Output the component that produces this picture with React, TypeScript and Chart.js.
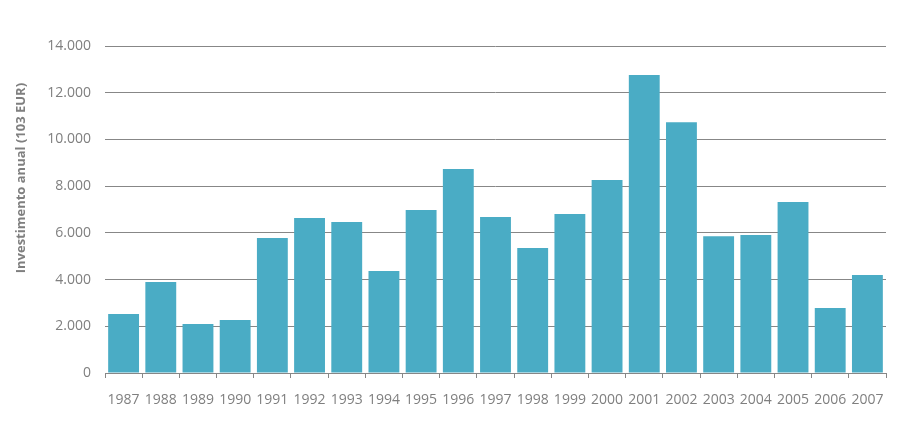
import React, { useEffect, useRef } from "react";
import { Chart, registerables } from "chart.js";

Chart.register(...registerables);

const years: string[] = [
  "1987", "1988", "1989", "1990", "1991", "1992", "1993", "1994", "1995", "1996", "1997",
  "1998", "1999", "2000", "2001", "2002", "2003", "2004", "2005", "2006", "2007",
];

const investimento: number[] = [
  2530, 3900, 2100, 2270, 5780, 6640, 6460, 4370, 6980, 8730, 6680,
  5350, 6810, 8260, 12760, 10740, 5860, 5910, 7320, 2780, 4200,
];

const yTitle = "Investimento anual (103 EUR)";

const TEXT = "#7f7f7f";
const GRID = "#878787";
const BAR = "#4aacc5";

const yTitlePlugin = {
  id: "yTitlePlugin",
  afterDraw(chart: any) {
    const { ctx, chartArea } = chart;
    const cy = chartArea.top + (chartArea.bottom - chartArea.top) * 0.404;
    ctx.save();
    ctx.translate(21, cy);
    ctx.rotate(-Math.PI / 2);
    ctx.font = "bold 13px 'Open Sans'";
    ctx.fillStyle = TEXT;
    ctx.textAlign = "center";
    ctx.textBaseline = "middle";
    ctx.fillText(yTitle, 0, 0);
    ctx.restore();
  },
};

export default function App() {
  const ref = useRef<HTMLCanvasElement | null>(null);

  useEffect(() => {
    if (!ref.current) return;
    const chart = new Chart(ref.current, {
      type: "bar",
      data: {
        labels: years,
        datasets: [
          {
            data: investimento,
            backgroundColor: BAR,
            borderWidth: 0,
            categoryPercentage: 1,
            barPercentage: 0.83,
          },
        ],
      },
      options: {
        animation: false,
        responsive: false,
        maintainAspectRatio: false,
        layout: { padding: { left: 0, right: 28, top: 46, bottom: 0 } },
        plugins: { legend: { display: false }, tooltip: { enabled: false } },
        scales: {
          x: {
            grid: {
              display: true,
              drawOnChartArea: false,
              drawTicks: true,
              tickLength: 5,
              color: GRID,
              offset: true,
            },
            border: { display: true, color: GRID, width: 1 },
            ticks: {
              color: TEXT,
              font: { family: "'Open Sans'", size: 14 },
              padding: 14,
              maxRotation: 0,
              autoSkip: false,
            },
            afterFit: (s: any) => {
              s.height = 49;
            },
          },
          y: {
            min: 0,
            max: 14000,
            grid: { color: GRID, drawTicks: false, lineWidth: 1 },
            border: { display: false },
            ticks: {
              stepSize: 2000,
              color: TEXT,
              padding: 14,
              font: { family: "'Open Sans'", size: 14 },
              callback: (v: any) =>
                Number(v) === 0 ? "0" : Number(v).toLocaleString("de-DE"),
            },
            afterFit: (s: any) => {
              s.width = 105;
            },
          },
        },
      },
      plugins: [yTitlePlugin],
    });
    return () => chart.destroy();
  }, []);

  return (
    <div style={{ position: "fixed", left: 0, top: 0, width: 914, height: 422, background: "#fff" }}>
      <canvas ref={ref} width={914} height={422} style={{ width: 914, height: 422 }} />
    </div>
  );
}
